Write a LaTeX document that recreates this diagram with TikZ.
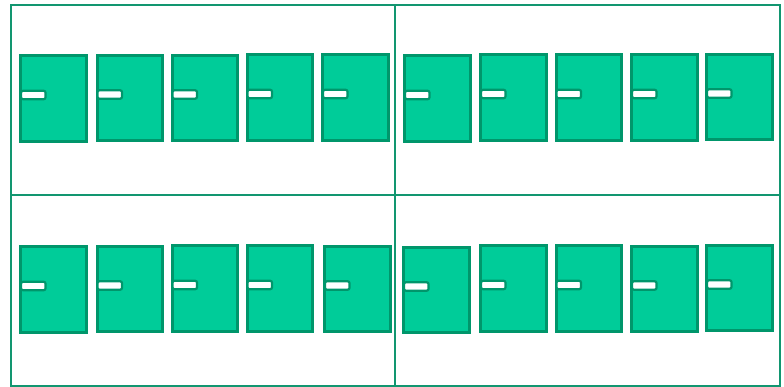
\documentclass[tikz,border=0pt]{standalone}
\definecolor{doorfill}{HTML}{00CC99}
\definecolor{doorline}{HTML}{00966B}
\definecolor{frameline}{HTML}{129670}
\tikzset{
  door/.style={draw=doorline, fill=doorfill, line width=3pt, minimum width=65.5pt, minimum height=85.5pt, inner sep=0pt, outer sep=0pt},
  handle/.style={draw=doorline, fill=white, line width=2.2pt, minimum width=24.5pt, minimum height=8.5pt, inner sep=0pt, outer sep=0pt, rounded corners=2pt, anchor=west},
  frame/.style={draw=frameline, line width=2.4pt}
}
\begin{document}
\begin{tikzpicture}[x=1pt,y=-1pt]
\useasboundingbox (0,0) rectangle (784,387);
\draw[frame] (11,5) rectangle (780,386);
\coordinate (vt) at (395,5);
\coordinate (vb) at (395,386);
\coordinate (hl) at (11,195);
\coordinate (hr) at (780,195);
\draw[frame] (vt) -- (vb);
\draw[frame] (hl) -- (hr);
\foreach \n/\cx/\cy in {
  t1/53.5/98.5, t2/130/98, t3/205/98, t4/280/97.5, t5/355.5/97.5,
  t6/437.5/98.5, t7/513.5/97.5, t8/589/97.5, t9/664.5/97.5, t10/739.5/97,
  b1/53.5/289.5, b2/130/289, b3/205/288.5, b4/280/288.5, b5/357.5/289,
  b6/436.5/290, b7/513.5/288.5, b8/589/288.5, b9/664.5/289, b10/739.5/288}{
  \node[door] (\n) at (\cx,\cy) {};
  \node[handle] (h\n) at ([yshift=3.5pt,xshift=0.3pt]\n.west) {};
}
\end{tikzpicture}
\end{document}
